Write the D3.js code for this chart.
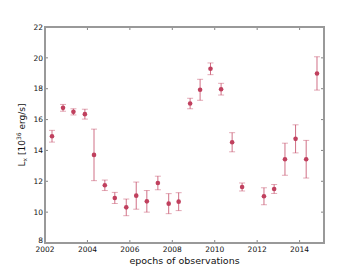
<!DOCTYPE html>
<html>
<head>
<meta charset="utf-8">
<script src="https://cdn.jsdelivr.net/npm/d3@7"></script>
<style>
  body { margin: 0; background: #fff; }
  svg { font-family: "DejaVu Sans", sans-serif; }
</style>
</head>
<body>
<div id="chart"></div>
<script>
// epochs (years) and luminosities with errors
var epochs = [2002.33, 2002.85, 2003.34, 2003.88, 2004.31, 2004.82, 2005.29, 2005.83,
              2006.3, 2006.8, 2007.32, 2007.83, 2008.3, 2008.84, 2009.31, 2009.8,
              2010.3, 2010.82, 2011.29, 2012.32, 2012.8, 2013.31, 2013.81, 2014.31, 2014.82];
var lum = [14.92, 16.76, 16.5, 16.35, 13.71, 11.74, 10.92, 10.31,
           11.07, 10.7, 11.89, 10.55, 10.68, 17.04, 17.93, 19.29,
           17.97, 14.53, 11.63, 11.03, 11.5, 13.43, 14.75, 13.43, 18.99];
var lumErr = [0.38, 0.22, 0.2, 0.32, 1.67, 0.34, 0.36, 0.54,
              0.88, 0.7, 0.44, 0.65, 0.58, 0.34, 0.68, 0.38,
              0.38, 0.62, 0.26, 0.55, 0.29, 1.04, 0.91, 1.22, 1.08];
var xTicks = [2002, 2004, 2006, 2008, 2010, 2012, 2014];
var yTicks = [8, 10, 12, 14, 16, 18, 20, 22];

var W = 360, H = 270;
var m = {left: 45, right: 36, top: 27, bottom: 27};
var col = "#c0405e";

var svg = d3.select("#chart").append("svg")
    .attr("width", W).attr("height", H);

var x = d3.scaleLinear().domain([2002, 2015.15]).range([m.left, W - m.right]);
var y = d3.scaleLinear().domain([8, 22]).range([H - m.bottom, m.top]);

// ticks, pointing inwards on all four sides
var g = svg.append("g").attr("stroke", "#333").attr("stroke-width", 0.6);
g.selectAll(".tb").data(xTicks).enter().append("line")
    .attr("x1", d => x(d)).attr("x2", d => x(d))
    .attr("y1", y(8)).attr("y2", y(8) - 3);
g.selectAll(".tt").data(xTicks).enter().append("line")
    .attr("x1", d => x(d)).attr("x2", d => x(d))
    .attr("y1", y(22)).attr("y2", y(22) + 3);
g.selectAll(".tl").data(yTicks).enter().append("line")
    .attr("x1", x(2002)).attr("x2", x(2002) + 3)
    .attr("y1", d => y(d)).attr("y2", d => y(d));
g.selectAll(".tr").data(yTicks).enter().append("line")
    .attr("x1", x.range()[1]).attr("x2", x.range()[1] - 3)
    .attr("y1", d => y(d)).attr("y2", d => y(d));

// frame
svg.append("rect")
    .attr("x", m.left).attr("y", m.top)
    .attr("width", W - m.left - m.right).attr("height", H - m.top - m.bottom)
    .attr("fill", "none").attr("stroke", "#999").attr("stroke-width", 2);

// tick labels
svg.selectAll(".xl").data(xTicks).enter().append("text")
    .attr("x", d => x(d)).attr("y", y(8) + 9)
    .attr("text-anchor", "middle").attr("font-size", "7.5px").attr("fill", "#111")
    .text(d => d);
svg.selectAll(".yl").data(yTicks).enter().append("text")
    .attr("x", m.left - 2).attr("y", d => y(d) + 2.7 - (d == 8 ? 2.5 : 0))
    .attr("text-anchor", "end").attr("font-size", "7.5px").attr("fill", "#111")
    .text(d => d);

// axis titles
svg.append("text")
    .attr("x", (m.left + W - m.right) / 2).attr("y", 264)
    .attr("text-anchor", "middle").attr("font-size", "9.5px").attr("fill", "#111")
    .text("epochs of observations");

var yl = svg.append("text")
    .attr("transform", "translate(25," + y(15) + ") rotate(-90)")
    .attr("text-anchor", "middle").attr("font-size", "9px").attr("fill", "#111");
yl.append("tspan").text("L");
yl.append("tspan").attr("font-size", "6px").attr("dy", 2).text("x");
yl.append("tspan").attr("dy", -2).text(" [10");
yl.append("tspan").attr("font-size", "6px").attr("dy", -4).text("36");
yl.append("tspan").attr("dy", 4).text(" erg/s]");

// error bars and points
var pts = epochs.map((e, i) => ({t: e, v: lum[i], e: lumErr[i]}));
var eb = svg.append("g").attr("stroke", col).attr("stroke-width", 1);
eb.selectAll(".ev").data(pts).enter().append("line")
    .attr("x1", d => x(d.t)).attr("x2", d => x(d.t))
    .attr("y1", d => y(d.v - d.e)).attr("y2", d => y(d.v + d.e))
    .attr("stroke-opacity", 0.75);
eb.selectAll(".cap").data(pts.flatMap(d => [d.v - d.e, d.v + d.e].map(v => ({t: d.t, v: v}))))
    .enter().append("line")
    .attr("x1", d => x(d.t) - 3).attr("x2", d => x(d.t) + 3)
    .attr("y1", d => y(d.v)).attr("y2", d => y(d.v))
    .attr("stroke-opacity", 0.45);

svg.selectAll(".pt").data(pts).enter().append("circle")
    .attr("cx", d => x(d.t)).attr("cy", d => y(d.v)).attr("r", 2.3)
    .attr("fill", col);
</script>
</body>
</html>
